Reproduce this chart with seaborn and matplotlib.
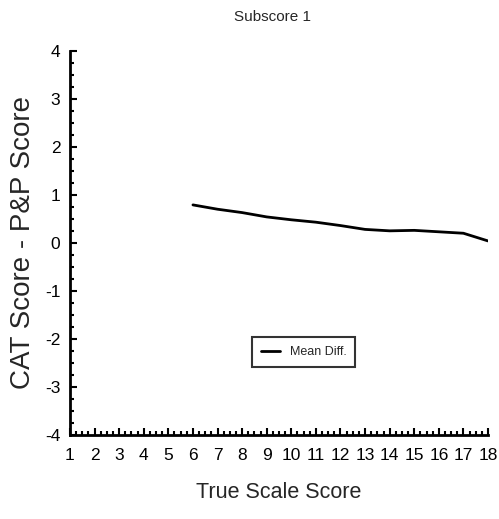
import matplotlib
matplotlib.use("Agg")
import matplotlib.pyplot as plt
import seaborn as sns
import pandas as pd
from matplotlib.ticker import MultipleLocator

true_scale = [6, 7, 8, 9, 10, 11, 12, 13, 14, 15, 16, 17, 18]
mean_diff = [0.79, 0.70, 0.63, 0.54, 0.48, 0.43, 0.36, 0.28, 0.25, 0.26, 0.23, 0.20, 0.04]
x_ticks = list(range(1, 19))
y_ticks = [-4, -3, -2, -1, 0, 1, 2, 3, 4]

sns.set_style("white")
plt.rcParams['font.family'] = ['Liberation Sans Narrow', 'Liberation Sans', 'DejaVu Sans']
plt.rcParams['axes.unicode_minus'] = False

df = pd.DataFrame({"True Scale Score": true_scale, "Mean Diff.": mean_diff})

fig = plt.figure(figsize=(4.99, 5.19), dpi=100)
ax = fig.add_axes([70/499, 84/519, 418/499, 384.3/519])
sns.lineplot(data=df, x="True Scale Score", y="Mean Diff.", ax=ax,
             color="black", linewidth=2, label="Mean Diff.")

ax.set_xlim(1, 18)
ax.set_ylim(-4, 4)
ax.set_xticks(x_ticks)
ax.set_yticks(y_ticks)
ax.xaxis.set_minor_locator(MultipleLocator(0.25))
ax.yaxis.set_minor_locator(MultipleLocator(0.25))
ax.tick_params(axis='both', which='major', direction='in', length=5, width=1.5,
               labelsize=12.5, color='black', labelcolor='black')
ax.tick_params(axis='both', which='minor', direction='in', length=3, width=1.5, color='black')
ax.tick_params(axis='x', which='both', bottom=True, pad=9)
ax.tick_params(axis='y', which='both', left=True, pad=7)

for s in ['top', 'right']:
    ax.spines[s].set_visible(False)
for s in ['left', 'bottom']:
    ax.spines[s].set_color('black')
    ax.spines[s].set_linewidth(2)

ax.set_xlabel("True Scale Score", fontsize=15.5, labelpad=14)
ax.set_ylabel("CAT Score - P&P Score", fontsize=20, labelpad=6)
fig.text(272/499, 1 - 17/519, "Subscore 1", fontsize=11, ha='center', va='center')

leg = ax.legend(loc='center', bbox_to_anchor=(0.559, 0.216), frameon=True,
                fancybox=False, fontsize=9, handlelength=1.5, handletextpad=0.8,
                borderpad=0.7)
leg.get_frame().set_edgecolor('black')
leg.get_frame().set_linewidth(1.5)

fig.savefig("out.png", dpi=100)
